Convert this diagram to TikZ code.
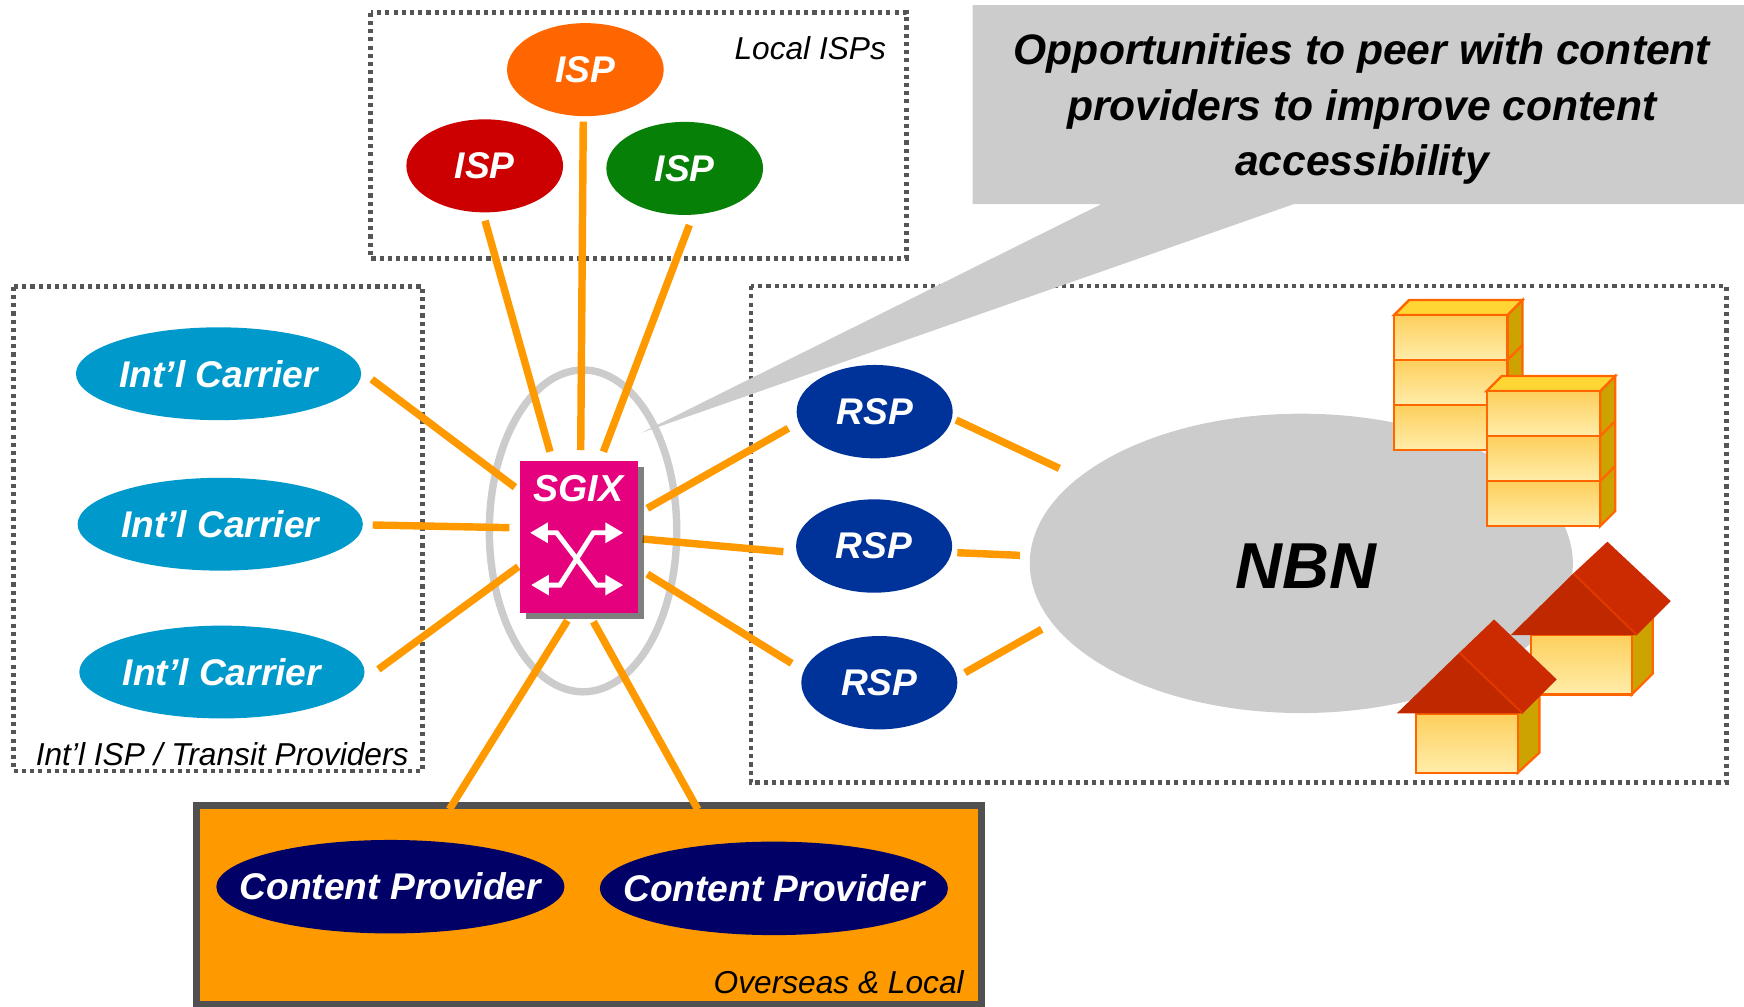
\documentclass[tikz,border=0pt]{standalone}
\usepackage{fontspec}
\setmainfont{Liberation Sans}
\usetikzlibrary{shapes.geometric,arrows.meta}

\definecolor{colIspOr}{HTML}{FF6600}
\definecolor{colIspRed}{HTML}{CC0000}
\definecolor{colIspGreen}{HTML}{078007}
\definecolor{colCarrier}{HTML}{0099CC}
\definecolor{colRsp}{HTML}{003399}
\definecolor{colCp}{HTML}{000066}
\definecolor{colLink}{HTML}{FF9900}
\definecolor{colGrp}{HTML}{555555}
\definecolor{colLGray}{HTML}{CCCCCC}
\definecolor{colPink}{HTML}{E5007E}
\definecolor{colFrame}{HTML}{505050}
\definecolor{colEdge}{HTML}{FF6600}
\definecolor{colFloorTop}{HTML}{FDCF5C}
\definecolor{colFloorBot}{HTML}{FFEDAA}
\definecolor{colTop}{HTML}{FFD633}
\definecolor{colSide}{HTML}{CCA300}
\definecolor{colRoofA}{HTML}{C02800}
\definecolor{colRoofB}{HTML}{CC2A00}
\definecolor{colRoofLine}{HTML}{E03A00}

\newcommand{\mytower}[2]{%
  \draw[sidefc] (#1+102,#2) -- ++(13.5,-13.5) -- ++(0,121.35) -- ++(-13.5,13.5) -- cycle;
  \draw[draw=colEdge, line width=0.6pt] (#1+102,#2+40.45) -- ++(13.5,-13.5) (#1+102,#2+80.9) -- ++(13.5,-13.5);
  \draw[topfc] (#1,#2) -- ++(13.5,-13.5) -- ++(102,0) -- ++(-13.5,13.5) -- cycle;
  \draw[floorbox] (#1,#2) rectangle ++(102,40.45);
  \draw[floorbox] (#1,#2+40.45) rectangle ++(102,40.45);
  \draw[floorbox] (#1,#2+80.9) rectangle ++(102,40.45);
}

\begin{document}
\begin{tikzpicture}[x=0.01cm, y=-0.01cm,
  grpbox/.style={draw=colGrp, line width=1.2pt, dash pattern=on 1.05pt off 1.05pt},
  ell/.style={ellipse, inner sep=0pt, outer sep=0pt, text=white,
    font=\fontsize{9.5}{11}\selectfont\bfseries\itshape},
  ispn/.style={ell, minimum width=1.408cm, minimum height=0.836cm},
  carn/.style={ell, fill=colCarrier, minimum width=2.563cm, minimum height=0.834cm},
  rspn/.style={ell, fill=colRsp, minimum width=1.402cm, minimum height=0.839cm},
  cpn/.style={ell, fill=colCp, minimum width=3.128cm, minimum height=0.84cm},
  link/.style={draw=colLink, line width=1.9pt},
  grplabel/.style={font=\fontsize{8.1}{10}\selectfont\itshape, inner sep=0pt},
  calltext/.style={font=\fontsize{10.9}{13}\selectfont\bfseries\itshape, inner sep=0pt, anchor=base},
  floorbox/.style={draw=colEdge, line width=0.6pt, top color=colFloorTop, bottom color=colFloorBot},
  topfc/.style={draw=colEdge, line width=0.6pt, fill=colTop},
  sidefc/.style={draw=colEdge, line width=0.6pt, fill=colSide},
  arr/.style={draw=white, line width=1.25pt,
    {Triangle[length=4.6pt,width=5pt]}-{Triangle[length=4.6pt,width=5pt]}},
]
\useasboundingbox (0,0) rectangle (1568,904.5);
\clip (0,0) rectangle (1568,904.5);

% group frames
\draw[grpbox] (333.3,11.4) rectangle (815,232.3);
\draw[grpbox] (12,257.8) rectangle (380,693.2);
\draw[grpbox] (675.2,257.2) rectangle (1552,703.7);
\draw[draw=colFrame, fill=colLink, line width=1.8pt] (176.6,724) rectangle (882.5,903.5);

% ring around the exchange and the NBN cloud
\node[draw=colLGray, line width=1.9pt, ellipse, inner sep=0pt,
      minimum width=1.684cm, minimum height=2.892cm] (ring) at (524.2,477.3) {};
\node[ellipse, fill=colLGray, inner sep=0pt, minimum width=4.88cm, minimum height=2.69cm] (nbn) at (1170,506.5) {};

% link end points
\coordinate (a1) at (436.1,198.4);  \coordinate (b1) at (494.5,406.1);
\coordinate (a2) at (524.4,109.4);  \coordinate (b2) at (522.1,404.6);
\coordinate (a3) at (619.8,202.3);  \coordinate (b3) at (542.5,406.1);
\coordinate (a4) at (334.2,341);    \coordinate (b4) at (463,438);
\coordinate (a5) at (335.1,472);    \coordinate (b5) at (457.9,474.4);
\coordinate (a6) at (340.2,601.8);  \coordinate (b6) at (466,509.5);
\coordinate (a7) at (708.8,385.1);  \coordinate (b7) at (582,457);
\coordinate (a8) at (704.3,496);    \coordinate (b8) at (577.8,484.6);
\coordinate (a9) at (711.8,596.4);  \coordinate (b9) at (582,516.1);
\coordinate (c1) at (859.6,377.6);  \coordinate (d1) at (952.4,421.1);
\coordinate (c2) at (860.7,496.9);  \coordinate (d2) at (917.1,499.3);
\coordinate (c3) at (867.6,604.8);  \coordinate (d3) at (936.6,565.8);
\coordinate (e1) at (404,727.7);    \coordinate (f1) at (510.1,558);
\coordinate (e2) at (627.4,727.7);  \coordinate (f2) at (533.5,559);

\foreach \p/\q in {a1/b1,a2/b2,a3/b3,a4/b4,a5/b5,a6/b6,a7/b7,a8/b8,a9/b9,c1/d1,c2/d2,c3/d3,e1/f1,e2/f2}
  \draw[link] (\p) -- (\q);

% callout
\fill[colLGray] (874.4,4.5) -- (1580,4.5) -- (1580,183.4) -- (1163.5,183.4) -- (577,389)
  -- (990.4,183.4) -- (874.4,183.4) -- cycle;
\node[calltext] (call1) at (1224.5,58.4) {Opportunities to peer with content};
\node[calltext] (call2) at (1224.5,108.5) {providers to improve content};
\node[calltext] (call3) at (1224.5,158.2) {accessibility};

% ISPs
\node[ispn, fill=colIspOr]    (ispO) at (526.3,62.6)  {\makebox[0pt]{ISP}};
\node[ispn, fill=colIspRed]   (ispR) at (435.8,149.1) {\makebox[0pt]{ISP}};
\node[ispn, fill=colIspGreen] (ispG) at (615.6,151.4) {\makebox[0pt]{ISP}};

% carriers
\node[carn] (car1) at (196.5,336)   {\makebox[0pt]{Int’l Carrier}};
\node[carn] (car2) at (198,471.3)   {\makebox[0pt]{Int’l Carrier}};
\node[carn] (car3) at (199.5,604.2) {\makebox[0pt]{Int’l Carrier}};

% RSPs
\node[rspn] (rsp1) at (786.4,370.1) {\makebox[0pt]{RSP}};
\node[rspn] (rsp2) at (785.9,490.9) {\makebox[0pt]{RSP}};
\node[rspn] (rsp3) at (790.6,613.8) {\makebox[0pt]{RSP}};

% content providers
\node[cpn] (cp1) at (351,797.2)   {\makebox[0pt]{Content Provider}};
\node[cpn] (cp2) at (695.8,798.7) {\makebox[0pt]{Content Provider}};

% SGIX exchange
\fill[black, opacity=0.5] (472.6,419.6) rectangle (579,556.6);
\node[fill=colPink, inner sep=0pt, minimum width=1.064cm, minimum height=1.37cm] (sgix) at (520.7,483) {};
\node[text=white, font=\fontsize{9.6}{11}\selectfont\bfseries\itshape, inner sep=0pt] (sgixlbl) at (520,439) {SGIX};
\draw[arr, line join=miter] (476.5,479) -- (500.5,479) -- (536.5,526) -- (560.4,526);
\draw[arr, line join=miter] (560.4,479) -- (533.4,479) -- (503.4,526) -- (477.4,526);

% NBN label
\node[font=\fontsize{16.6}{19}\selectfont\bfseries\itshape, inner sep=0pt] (nbnlbl) at (1174,508.9) {NBN};

% buildings
\mytower{1253.4}{283.2}
\mytower{1336.7}{351.6}

% back house
\draw[sidefc] (1467.1,570.9) -- (1486,552) -- (1486,605.4) -- (1467.1,624.3) -- cycle;
\draw[floorbox] (1376.3,570.9) rectangle (1467.1,624.3);
\fill[colRoofB] (1414.6,515.5) -- (1445.2,487) -- (1502.1,540.4) -- (1471.6,570.9) -- cycle;
\fill[colRoofA] (1358.3,570.9) -- (1414.6,515.5) -- (1471.6,570.9) -- cycle;
\draw[colRoofLine, line width=0.5pt] (1414.6,515.5) -- (1471.6,570.9);

% front house
\draw[sidefc] (1364.6,641.4) -- (1384,622) -- (1384,676.7) -- (1364.6,694.7) -- cycle;
\draw[floorbox] (1273.1,641.4) rectangle (1364.6,694.7);
\fill[colRoofB] (1312.1,586.8) -- (1343.3,556.9) -- (1399.6,610.8) -- (1369.1,641.4) -- cycle;
\fill[colRoofA] (1255.8,641.4) -- (1312.1,586.8) -- (1369.1,641.4) -- cycle;
\draw[colRoofLine, line width=0.5pt] (1312.1,586.8) -- (1369.1,641.4);

% group labels
\node[grplabel, anchor=base east] (lblisp) at (797.3,53.4) {Local ISPs};
\node[grplabel, anchor=base west] (lblintl) at (31.5,687.8) {Int’l ISP / Transit Providers};
\node[grplabel, anchor=base east] (lblcp) at (867.2,893) {Overseas \& Local};
\end{tikzpicture}
\end{document}
